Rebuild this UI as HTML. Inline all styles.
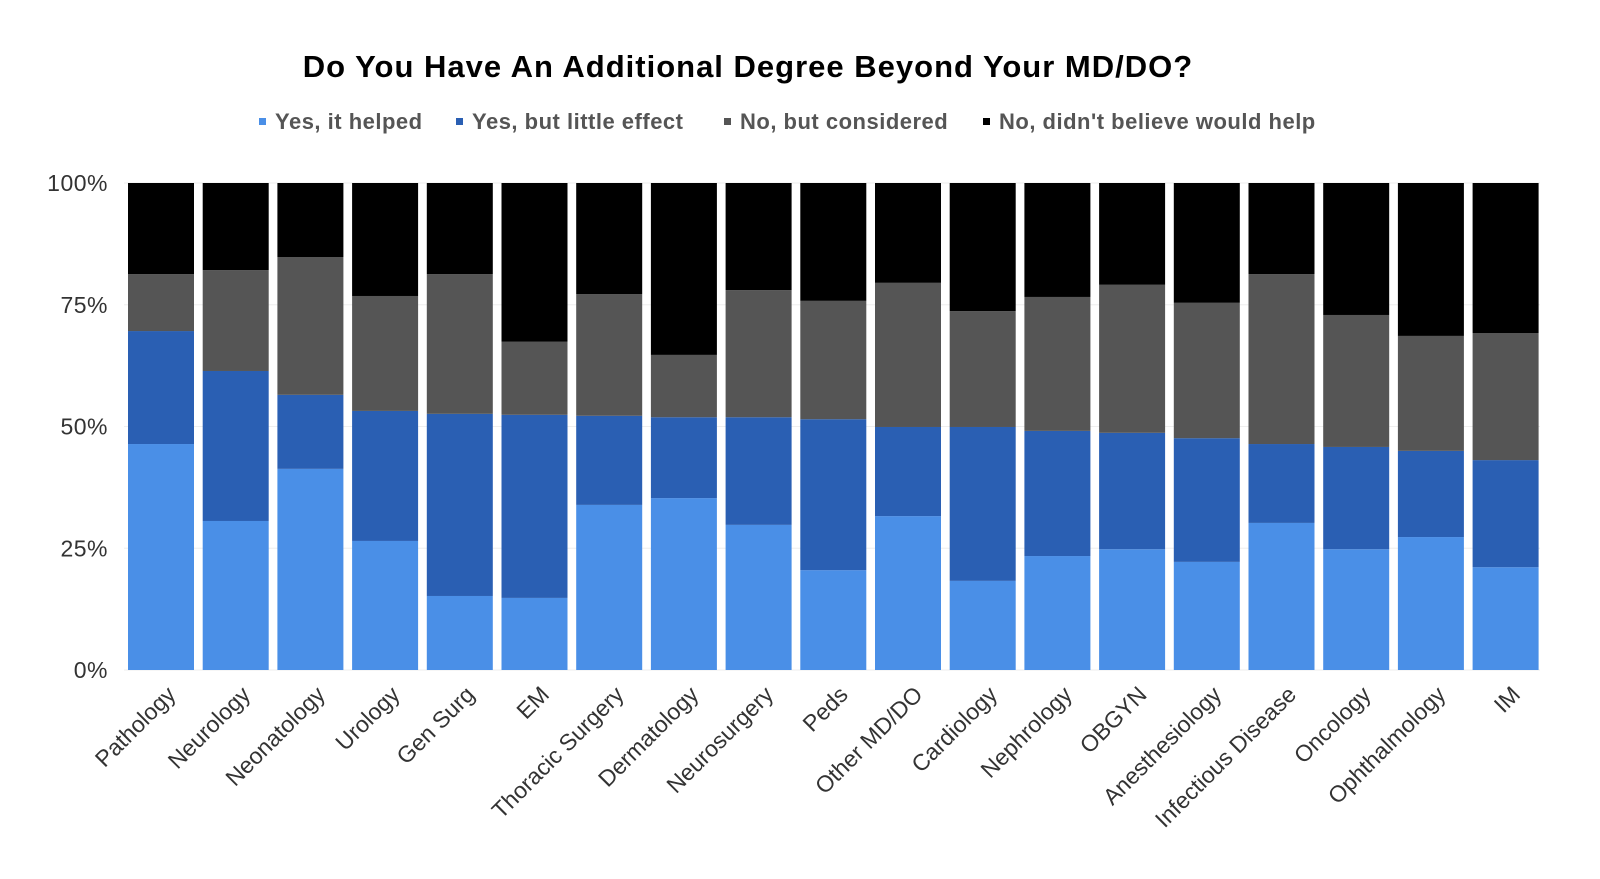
<!DOCTYPE html>
<html><head><meta charset="utf-8">
<style>
body{margin:0;background:#fff;}
svg{display:block;font-family:"Liberation Sans",sans-serif;}
</style></head>
<body>
<svg id="chart" width="1600" height="879" viewBox="0 0 1600 879">
<text x="748" y="77" text-anchor="middle" font-size="31" font-weight="bold" letter-spacing="1" fill="#000">Do You Have An Additional Degree Beyond Your MD/DO?</text>
<g font-size="22" font-weight="bold" fill="#555">
<g><rect x="259" y="118" width="7" height="7" fill="#4a8fe7"/><text x="275" y="129" fill="#555" letter-spacing="0.5">Yes, it helped</text></g>
<g><rect x="456" y="118" width="7" height="7" fill="#2a5fb3"/><text x="472" y="129" fill="#555" letter-spacing="0.5">Yes, but little effect</text></g>
<g><rect x="724" y="118" width="7" height="7" fill="#555555"/><text x="740" y="129" fill="#555" letter-spacing="0.5">No, but considered</text></g>
<g><rect x="983" y="118" width="7" height="7" fill="#000"/><text x="999" y="129" fill="#555" letter-spacing="0.5">No, didn't believe would help</text></g>
</g>
<g id="grid"></g>
<g id="bars"></g>
<g id="ylabels"></g>
<g id="xlabels"></g>
</svg>
<script>
const categories=["Pathology","Neurology","Neonatology","Urology","Gen Surg","EM","Thoracic Surgery","Dermatology","Neurosurgery","Peds","Other MD/DO","Cardiology","Nephrology","OBGYN","Anesthesiology","Infectious Disease","Oncology","Ophthalmology","IM"];
const yesHelped=[46.4,30.6,41.3,26.5,15.2,14.8,33.9,35.3,29.8,20.5,31.6,18.3,23.4,24.8,22.2,30.2,24.8,27.3,21.1];
const yesLittle=[23.2,30.8,15.2,26.7,37.4,37.6,18.3,16.6,22.1,31.0,18.3,31.6,25.7,23.9,25.4,16.2,21.0,17.7,22.0];
const noConsidered=[11.7,20.7,28.3,23.6,28.7,15.0,25.0,12.8,26.1,24.3,29.6,23.8,27.5,30.4,27.8,34.9,27.1,23.6,26.1];
const noWouldnt=[18.7,17.9,15.2,23.2,18.7,32.6,22.8,35.3,22.0,24.2,20.5,26.3,23.4,20.9,24.6,18.7,27.1,31.4,30.8];
const yTicks=[0,25,50,75,100];
const yTickLabels=["0%","25%","50%","75%","100%"];
const NS="http://www.w3.org/2000/svg";
const plotTop=183,plotBottom=670,plotLeft=124,step=74.7,bw=66,firstX=128;
const y=v=>plotBottom-(v/100)*(plotBottom-plotTop);
const xPos=i=>firstX+i*step;
function mk(tag,attrs,parent){const e=document.createElementNS(NS,tag);for(const k in attrs)e.setAttribute(k,attrs[k]);parent.appendChild(e);return e;}
const grid=document.getElementById('grid'),bars=document.getElementById('bars'),yl=document.getElementById('ylabels'),xl=document.getElementById('xlabels');
yTicks.forEach((t,i)=>{
  const l=mk('line',{x1:plotLeft,x2:1540,y1:y(t),y2:y(t),stroke:'#eeeeee','stroke-width':1},grid);
  
  
  const tx=mk('text',{x:108,y:y(t)+8,'text-anchor':'end','font-size':23,fill:'#333','letter-spacing':0.5},yl);
  tx.textContent=yTickLabels[i];
  
  
});
const series=[yesHelped,yesLittle,noConsidered,noWouldnt];
const colors=["#4a8fe7","#2a5fb3","#555555","#000000"];
const snames=["yes-helped","yes-little","no-considered","no-wouldnt"];
categories.forEach((c,i)=>{
  let base=0;
  series.forEach((s,k)=>{
    const v=s[i];
    const r=mk('rect',{x:xPos(i),y:y(base+v),width:bw,height:y(base)-y(base+v),fill:colors[k]},bars);
    
    
    base+=v;
  });
  const cx=xPos(i)+bw/2+16, cy=696;
  const t=mk('text',{x:cx,y:cy,'text-anchor':'end','font-size':23,fill:'#333',transform:`rotate(-45 ${cx} ${cy})`},xl);
  t.textContent=c;
  
  
});
</script>
</body></html>
